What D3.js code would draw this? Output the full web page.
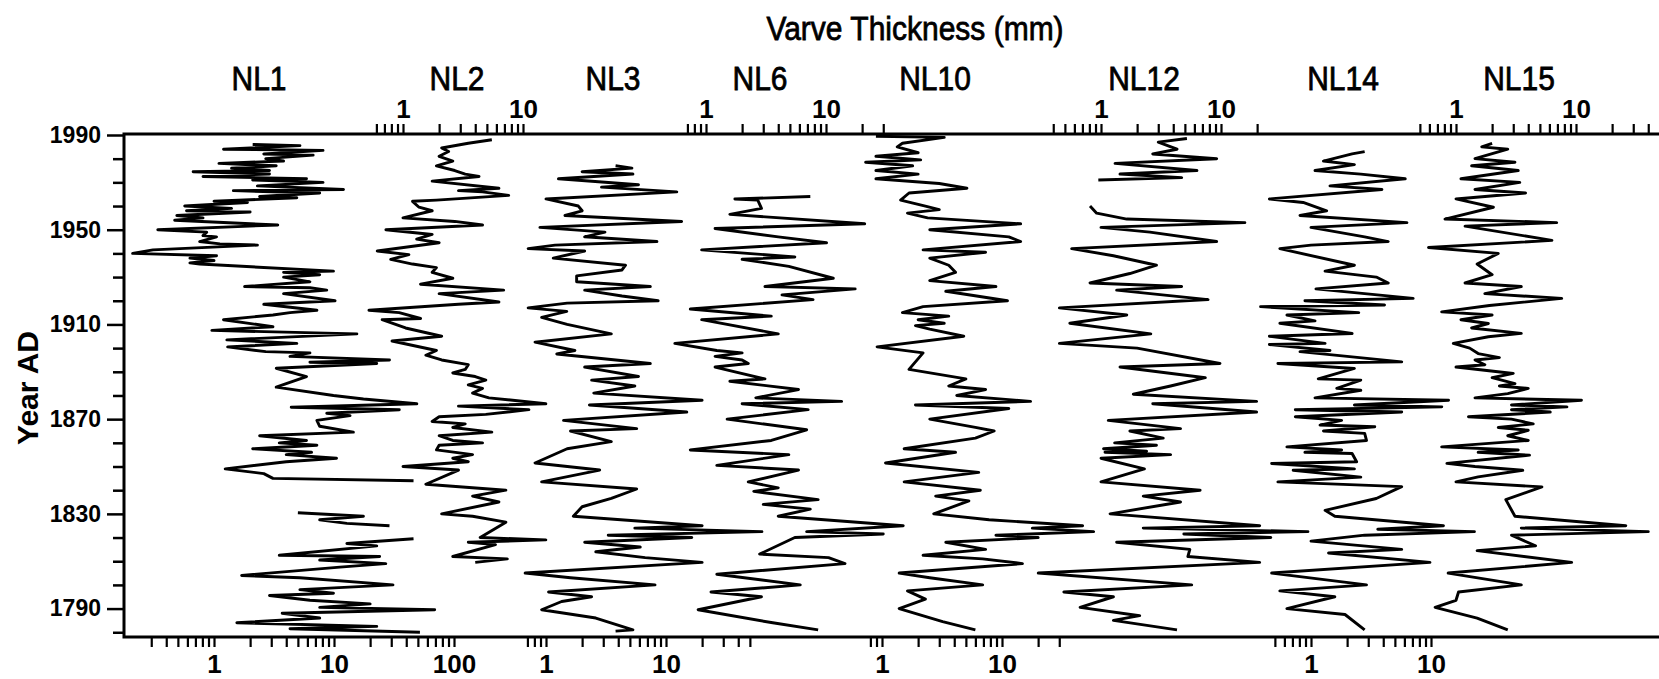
<!DOCTYPE html>
<html>
<head>
<meta charset="utf-8">
<script src="https://cdn.jsdelivr.net/npm/d3@7"></script>
<style>
  body { margin: 0; background: #fff; }
  svg { display: block; font-family: "Liberation Sans", Arial, Helvetica, sans-serif; }
</style>
</head>
<body>
<div id="container"></div>
<script>
/* DATA : [year AD, varve thickness in mm], null = no record */
const nl1 = [[1986,2.1],[1985.5,5.2],[1984,1.2],[1983.5,8.1],[1982,2.6],[1981.5,6.7],[1980,2.7],[1979,3.8],[1978,1.1],[1977,3.3],[1976,1.4],[1975,2.9],[1974.5,0.67],[1973.5,2.9],[1972.5,0.81],[1971.5,5.9],[1971,2.1],[1970,8.1],[1968.5,2.3],[1967,12],[1966.5,1.45],[1965.5,7.6],[1964,2.4],[1963.5,4.9],[1962,1.0],[1961.5,1.9],[1960,0.57],[1959,1.4],[1958,0.59],[1957.5,2.0],[1956,0.49],[1955,0.81],[1954,0.47],[1952,3.4],[1950,0.34],[1949,0.87],[1947.5,0.81],[1947,1.05],[1945,0.76],[1944,1.12],[1943.5,2.3],[1941.5,0.31],[1940,0.21],[1939,1.05],[1938,0.63],[1937,1.0],[1936,0.63],[1935.5,0.76],[1932.5,9.9],[1932,3.8],[1931,7.6],[1930,3.8],[1928,6.3],[1926,1.8],[1925.5,6.3],[1924.5,8.7],[1923,3.8],[1920,10.2],[1918.5,2.6],[1916,7.2],[1915,4.3],[1914,3.1],[1912,1.2],[1909,3.1],[1907.5,0.96],[1906,15.5],[1903.5,1.28],[1902,4.9],[1900.5,1.3],[1898.5,2.7],[1898,6.3],[1896.5,4.3],[1895,29],[1894,6.3],[1893.5,22.7],[1891.5,3.3],[1888,5.9],[1885,4.0],[1883.5,3.3],[1880,9.9],[1878.5,17.6],[1876.5,49],[1875,4.4],[1874,35],[1872.5,8.7],[1871.5,13.6],[1869.5,7.2],[1867,7.6],[1864.5,14.5],[1863,2.4],[1861,5.9],[1860,3.5],[1859,7.2],[1857.5,2.1],[1856,6.5],[1855,4.0],[1853.5,10.5],[1852,4.0],[1849,1.24],[1847,2.6],[1845,3.1],[1844,46],[1843,null],[1830.5,5.0],[1829,17.6],[1827.5,7.6],[1826,12.8],[1825,29],[1824,null],[1819.5,46],[1817.5,12.8],[1816.5,22.7],[1812.5,3.5],[1812,24],[1810.5,7.6],[1809,27],[1807.5,11.2],[1804,1.7],[1803,5.2],[1800,31],[1798,5.2],[1796.5,9.9],[1795.5,2.9],[1793.5,6.3],[1792,20],[1790.5,7.6],[1789.5,69],[1788,3.7],[1786,7.6],[1784,1.55],[1782.5,22.7],[1781.5,4.3],[1780,52]];

const nl2 = [[1988,5.5],[1986.5,3.5],[1984.5,2.1],[1983,2.4],[1981,2.0],[1979,2.6],[1977,1.9],[1975,2.7],[1973.5,3.3],[1972.5,4.3],[1970.5,1.75],[1967.5,6.3],[1966.5,2.9],[1966,4.6],[1964.5,7.6],[1962.5,1.9],[1962,1.2],[1959.5,1.36],[1958,1.75],[1955,1.0],[1953.5,2.7],[1952,4.6],[1950,0.72],[1948,1.75],[1946,1.3],[1944.5,2.0],[1941,0.61],[1939.5,1.12],[1937.5,0.79],[1935.5,1.2],[1934,1.9],[1932,1.75],[1929.5,2.6],[1927,1.4],[1924.5,6.9],[1923,2.0],[1919.5,6.3],[1918.5,2.9],[1916,0.52],[1915,0.93],[1912.5,1.4],[1912,0.67],[1908.5,1.05],[1905,2.1],[1903,0.81],[1899,1.9],[1897,1.55],[1895,2.1],[1893,3.5],[1891,3.3],[1889.5,2.6],[1888,4.0],[1886.5,4.9],[1884.5,3.5],[1883,4.6],[1881,3.8],[1879,5.2],[1876.5,15.5],[1875.5,2.9],[1874,11.2],[1872,4.9],[1871,2.0],[1869,1.75],[1868,3.3],[1866.5,2.6],[1864.5,5.5],[1863,2.0],[1861,2.6],[1860,4.6],[1859,2.0],[1857,1.9],[1855,3.8],[1853.5,2.6],[1852,3.5],[1850,1.0],[1848.5,2.9],[1842.5,1.55],[1840,7.2],[1837.5,3.8],[1835,6.3],[1830,2.1],[1829,3.8],[1826.5,7.2],[1820,4.4],[1819,15.5],[1818,3.5],[1817,5.9],[1812,2.6],[1811,7.4],[1809.5,4.0]];

const nl3 = [[1977,3.8],[1976,5.2],[1974.5,2.0],[1973.5,5.3],[1971.5,1.27],[1969,5.9],[1968,2.9],[1966,12.3],[1963,1.0],[1960,1.86],[1958,2.0],[1956,1.44],[1953.5,13.5],[1951,0.89],[1949,3.1],[1947,2.1],[1945,8.4],[1943.5,1.19],[1942,0.71],[1941,2.1],[1938,1.15],[1935,4.6],[1933,4.3],[1930.5,1.8],[1928,1.8],[1926,7.4],[1924.5,2.1],[1922,4.3],[1920,8.6],[1919,1.5],[1917,0.71],[1915.5,1.49],[1913,0.92],[1910,1.5],[1906,3.5],[1902.5,0.81],[1899,1.74],[1897.5,1.23],[1893.5,7.4],[1892,2.1],[1888,5.9],[1886.5,2.4],[1884,5.5],[1881,2.5],[1878,20],[1876,2.3],[1873,14.9],[1869.5,1.4],[1866,5.7],[1865,1.6],[1860.5,3.5],[1857.5,1.5],[1851.5,0.81],[1848.5,2.8],[1843.5,0.92],[1840.5,5.7],[1836.5,3.5],[1833,2.0],[1829,1.69],[1825,20],[1824,5.5],[1822.5,63],[1821,3.3],[1820,16.4],[1818,2.1],[1816,6.1],[1814,2.6],[1811.5,6.7],[1809.5,20],[1805,0.67],[1803,1.6],[1800,8.1],[1797,1.05],[1795,2.4],[1793,1.35],[1789.5,0.92],[1786,2.6],[1781,5.3],[1780.5,3.8]];

const nl6 = [[1964,7.4],[1963,1.74],[1962.5,2.7],[1959,2.9],[1956.5,1.58],[1952.5,21],[1950.5,1.19],[1947,4.0],[1944.5,10.1],[1941.5,0.92],[1938.5,5.5],[1937.5,2.0],[1934.5,4.9],[1929.5,11.5],[1926,3.1],[1925,17.5],[1922.5,4.3],[1920.5,7.8],[1916.5,0.74],[1913.5,3.5],[1912,0.92],[1906,4.0],[1902,0.55],[1899,1.23],[1898,2.0],[1896.5,1.19],[1895,2.0],[1893.5,2.25],[1892,1.19],[1887,3.1],[1886,1.58],[1882.5,5.9],[1879,2.6],[1877.5,13.5],[1876.5,2.0],[1874,7.1],[1870,1.5],[1865.5,6.9],[1861,3.5],[1857,0.74],[1855,4.9],[1850.5,1.23],[1848.5,5.9],[1843.5,2.25],[1841,4.0],[1839.5,2.5],[1836,8.6],[1834,3.0],[1832,7.4],[1829,4.0],[1825,44],[1822.5,6.9],[1821.5,30],[1820,5.5],[1813,2.8],[1811.5,10.5],[1809,14.4],[1804.5,1.23],[1800,6.1],[1797,1.1],[1795,2.9],[1789.5,0.86],[1784,3.6],[1781,8.6]];

const nl10 = [[1989.5,0.89],[1989,3.3],[1986.5,1.48],[1985,1.34],[1982.5,2.0],[1981,0.89],[1979.5,2.1],[1978.5,0.73],[1977,1.8],[1975,0.89],[1973.5,2.0],[1971.5,0.89],[1969.5,3.0],[1967.5,5.1],[1965.5,1.68],[1962.5,1.43],[1960,2.3],[1958.5,3.0],[1957,1.63],[1955,2.4],[1952.5,14.3],[1950,2.5],[1947,11.4],[1945,14.3],[1941.5,2.2],[1940.5,7.3],[1938,2.5],[1935,3.6],[1932,4.1],[1928.5,2.5],[1926,8.9],[1924,3.4],[1920,11.1],[1917.5,2.2],[1915,1.48],[1913.5,3.6],[1912,2.0],[1910.5,3.3],[1909.5,1.9],[1908,2.5],[1905,4.8],[1900.5,0.91],[1898,2.2],[1891,1.68],[1887,5.0],[1884,3.6],[1882.5,7.3],[1880,4.2],[1877.5,17.3],[1876,1.9],[1874.5,11.4],[1870,2.5],[1866.5,6.0],[1865,8.6],[1862,6.0],[1857.5,1.53],[1856,4.1],[1851.5,1.07],[1847.5,6.4],[1843.5,1.53],[1840,6.6],[1837.5,2.8],[1835.5,5.3],[1830,2.7],[1827.5,7.8],[1825,47],[1824,17.9],[1822.5,58],[1821,8.9],[1820,20],[1818,3.4],[1815,7.3],[1812.5,2.2],[1811,6.9],[1809,14.8],[1805,1.39],[1803,2.5],[1800,6.9],[1797.5,1.63],[1794,2.3],[1790,1.39],[1784.5,3.2],[1781,6.0]];

const nl12 = [[1988.5,5.2],[1987,3.0],[1984,4.3],[1982,2.7],[1980,9.2],[1978,1.31],[1975,6.3],[1973.5,1.44],[1972,4.7],[1971,0.95],[1970,null],[1960,0.81],[1957,0.92],[1954.5,1.64],[1953,15.8],[1951,1.0],[1949,2.56],[1945,9.2],[1942,0.57],[1939,1.27],[1935,2.9],[1931.5,1.74],[1927.5,0.81],[1926,4.7],[1924.5,1.35],[1920.5,7.8],[1917,0.45],[1914,1.64],[1910.5,0.55],[1906,2.6],[1902,0.45],[1900,2.0],[1893.5,9.8],[1892,1.44],[1887.5,7.4],[1884,3.8],[1880.5,1.86],[1877.5,19.8],[1876.5,2.7],[1873,19.8],[1869.5,1.15],[1866,4.6],[1865,1.74],[1862,3.3],[1860,1.3],[1859,2.9],[1857.5,1.05],[1856.5,2.4],[1856,1.08],[1855,3.8],[1853.5,1.0],[1849,2.3],[1843.5,1.0],[1840,6.7],[1837.5,2.25],[1835,4.6],[1830,1.19],[1825,21],[1824,2.25],[1822.5,53],[1821.5,4.9],[1820,26],[1818,1.35],[1815,5.5],[1812,5.3],[1809.5,21],[1805,0.30],[1800,5.7],[1797,0.49],[1795,1.27],[1790.5,0.67],[1787,2.1],[1785,1.27],[1781,4.3]];

const nl14 = [[1983,2.8],[1982,2.2],[1979,1.27],[1977.5,2.3],[1975,1.08],[1973.5,2.6],[1971.5,6.1],[1968.5,1.44],[1967,3.9],[1963,0.45],[1961.5,0.86],[1958,1.35],[1956,0.81],[1953,6.3],[1951,1.0],[1947,2.8],[1945,4.4],[1943.5,1.0],[1942,0.55],[1935,2.3],[1932.5,1.31],[1930,3.5],[1927.5,4.4],[1925,1.1],[1921,7.1],[1920,0.89],[1918.2,4.1],[1917.5,0.38],[1915,2.5],[1914,0.63],[1911.5,1.08],[1910.5,0.55],[1906.2,2.2],[1905,0.45],[1902,1.31],[1901.5,0.45],[1899,1.44],[1898.5,0.81],[1894.2,5.7],[1893.5,0.53],[1891.4,2.3],[1887,1.15],[1886.5,2.6],[1883,1.64],[1882.2,2.6],[1879,1.08],[1878,14],[1876,2.3],[1875.2,12.3],[1874,0.74],[1873,5.7],[1871,0.74],[1869.5,1.8],[1867.5,1.19],[1866.8,3.4],[1865,1.27],[1864,2.8],[1861,2.9],[1858.3,0.63],[1857,1.8],[1856,0.89],[1855.5,2.2],[1852,2.4],[1851.3,0.47],[1849,2.3],[1848.4,0.71],[1845.5,2.6],[1843.5,0.53],[1841.5,5.7],[1836.5,3.5],[1831.5,1.31],[1829,1.58],[1825,12.7],[1823.5,3.6],[1822.5,23],[1821,2.8],[1818.5,1.0],[1815,5.7],[1813.5,1.4],[1809.5,9.8],[1805,0.47],[1800,2.9],[1797.5,0.55],[1795,1.58],[1790,0.63],[1787.5,1.92],[1781,2.8]];

const nl15 = [[1986.5,2.0],[1985,1.64],[1984,2.7],[1980,1.44],[1978.5,3.1],[1977,1.35],[1975,3.3],[1971.5,1.1],[1970,3.4],[1967,1.44],[1965.5,3.8],[1963,1.0],[1959.5,2.05],[1954.5,0.81],[1953,6.9],[1951.5,1.19],[1945.5,6.3],[1942.5,0.59],[1940,2.25],[1935.5,1.5],[1931,2.0],[1927.5,1.19],[1926,3.5],[1923,1.74],[1921,7.6],[1918,1.9],[1915.3,0.76],[1914,2.0],[1912,1.1],[1910.4,1.86],[1908.5,1.35],[1906.2,3.5],[1904.8,1.86],[1902,0.95],[1900,1.3],[1897.7,1.53],[1896,2.3],[1895,1.44],[1893,1.74],[1892,1.0],[1889.3,3.0],[1887.5,2.0],[1885,3.1],[1884,2.3],[1883,4.0],[1880.8,2.7],[1879,1.44],[1878,11.1],[1876,2.9],[1875.2,8.4],[1874,2.9],[1873,6.1],[1871,1.27],[1870,2.9],[1868,4.4],[1866.5,2.25],[1865.3,4.0],[1863,2.7],[1861,4.0],[1858.3,0.76],[1857,3.3],[1856,1.53],[1854.8,4.1],[1851.3,0.84],[1850,1.44],[1848.4,3.6],[1845.6,1.53],[1843.5,1.0],[1841.4,5.2],[1836,2.6],[1829,3.1],[1825,26],[1824,3.5],[1822.5,40],[1821,2.9],[1816.5,4.6],[1814.5,1.5],[1809.5,9.2],[1805,0.86],[1800,3.5],[1797,1.05],[1793.5,1.0],[1790.5,0.67],[1786,1.5],[1781,2.7]];

const seriesNames = ["NL1", "NL2", "NL3", "NL6", "NL10", "NL12", "NL14", "NL15"];
const seriesData = [nl1, nl2, nl3, nl6, nl10, nl12, nl14, nl15];
// extent of each core's own log axis (mm)
const axisExtents = [[0.3, 100], [0.6, 10], [0.7, 50], [0.7, 30], [0.8, 30], [0.4, 20], [0.5, 10], [0.5, 40]];
const labelledTicks = [1, 10, 100];
const yearTicks = d3.range(1780, 1991, 10);
const yearLabels = [1790, 1830, 1870, 1910, 1950, 1990];

/* LAYOUT */
const W = 1659, H = 679;
const frame = {left: 124, top: 134, bottom: 637, right: W};
const decade = 120;                         // px per factor of ten
const onePos = [214, 403, 546, 706, 882, 1101, 1311, 1456];   // where 1 mm sits for each core
const axisSide = ["bottom", "top", "bottom", "top", "bottom", "top", "bottom", "top"];
const nameX = [259, 457, 613, 760, 935, 1144, 1343, 1519];

const svg = d3.select("#container")
  .append("svg")
    .attr("width", W)
    .attr("height", H);

const y = d3.scaleLinear()
  .domain([1778, 1990])
  .range([frame.bottom, 135]);

// log ticks 1..9 x 10^n inside an extent
function logTicks(lo, hi) {
  const out = [];
  for (let e = Math.floor(Math.log10(lo)); e <= Math.ceil(Math.log10(hi)); e++) {
    for (let m = 1; m <= 9; m++) {
      const v = +(m * Math.pow(10, e)).toPrecision(3);
      if (v >= lo - 1e-9 && v <= hi + 1e-9) out.push(v);
    }
  }
  return out;
}

// heavier, slightly tall lettering like the printed figure
function label(x, yy, txt, size, bold) {
  return svg.append("text")
    .attr("transform", `translate(${x},${yy}) scale(1,1.12)`)
    .attr("text-anchor", "middle")
    .attr("font-size", size)
    .attr("font-weight", bold ? "bold" : "normal")
    .attr("stroke", "#000")
    .attr("stroke-width", bold ? 0 : 0.7)
    .text(txt);
}

// SERIES
seriesData.forEach((data, i) => {
  const x = d3.scaleLog()
    .domain([1, 10])
    .range([onePos[i], onePos[i] + decade]);

  const line = d3.line()
    .defined(d => d[1] != null)
    .x(d => x(d[1]))
    .y(d => y(d[0]));

  svg.append("path")
    .datum(data)
    .attr("fill", "none")
    .attr("stroke", "#000")
    .attr("stroke-width", 2.9)
    .attr("stroke-linejoin", "round")
    .attr("d", line);

  // own log axis, alternating bottom / top
  const top = axisSide[i] === "top";
  const ax = (top ? d3.axisTop(x) : d3.axisBottom(x))
    .tickValues(logTicks(axisExtents[i][0], axisExtents[i][1]))
    .tickSize(10)
    .tickPadding(top ? 6 : 8)
    .tickFormat(d => labelledTicks.includes(d) ? d : "");

  const g = svg.append("g")
    .attr("transform", "translate(0," + (top ? frame.top : frame.bottom) + ")")
    .call(ax);
  g.select(".domain").remove();
  g.selectAll(".tick line").attr("stroke-width", 2.2);
  g.selectAll(".tick text")
    .attr("font-size", 26)
    .attr("font-weight", "bold")
    .attr("font-family", "Liberation Sans, Arial, sans-serif")
    .attr("fill", "#000");

  // core name
  label(nameX[i], 90, seriesNames[i], 30, false);
});

// FRAME
svg.append("path")
  .attr("d", `M${frame.right},${frame.top}H${frame.left}V${frame.bottom}H${frame.right}`)
  .attr("fill", "none")
  .attr("stroke", "#000")
  .attr("stroke-width", 3);

// YEAR AXIS
const yAxis = svg.append("g")
  .attr("transform", "translate(" + frame.left + ",0)")
  .call(d3.axisLeft(y)
    .tickValues(yearTicks)
    .tickSize(11)
    .tickPadding(13)
    .tickFormat(d => yearLabels.includes(d) ? d : ""));
yAxis.select(".domain").remove();
yAxis.selectAll(".tick line").attr("stroke-width", 2.5)
  .filter(d => yearLabels.includes(d)).attr("x2", -17);
yAxis.selectAll(".tick text")
  .attr("x", -23)
  .attr("font-size", 23)
  .attr("font-weight", "bold")
  .attr("font-family", "Liberation Sans, Arial, sans-serif")
  .attr("fill", "#000");

svg.append("text")
  .attr("transform", "translate(38,388) rotate(-90)")
  .attr("text-anchor", "middle")
  .attr("font-size", 30)
  .attr("font-weight", "bold")
  .text("Year AD");

label(915, 40, "Varve Thickness (mm)", 30, false);
</script>
</body>
</html>
